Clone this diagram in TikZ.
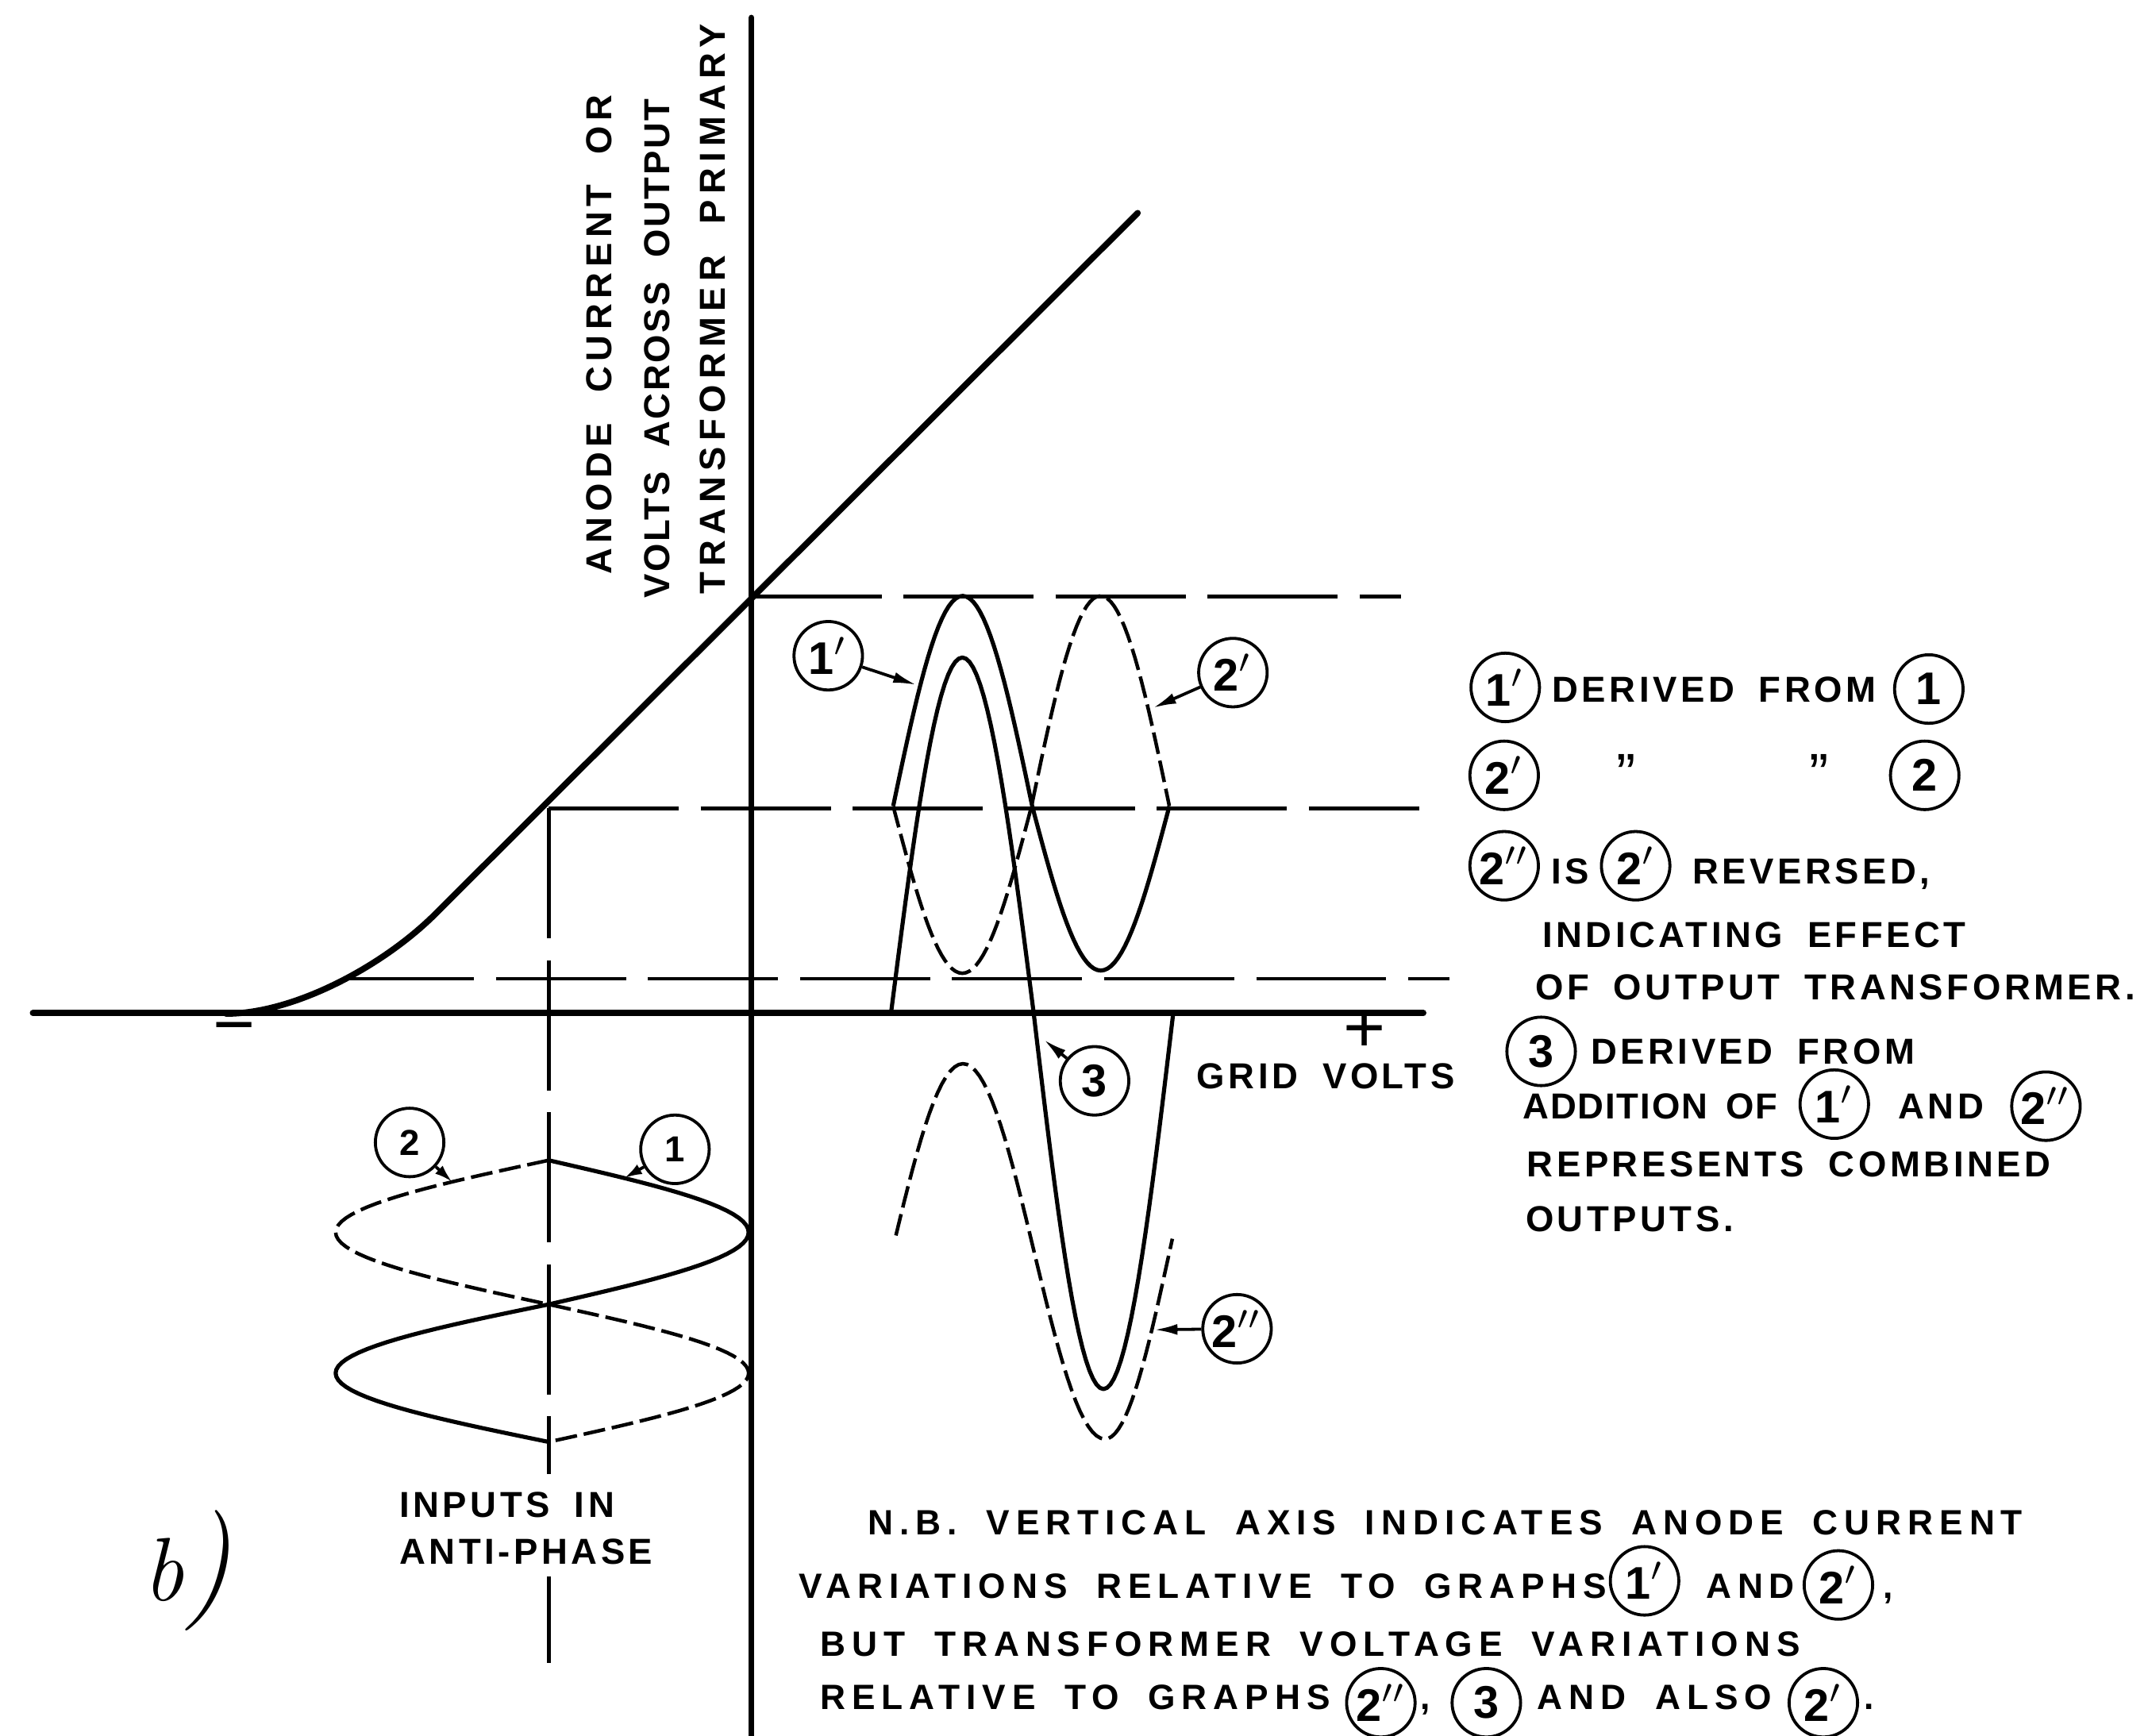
\documentclass[tikz,border=0pt]{standalone}
\usepackage{fontspec}
\newfontfamily\lettering{Liberation Sans}[LetterSpace=10,WordSpace=1.8]
\newfontfamily\vletteringA{Liberation Sans}[LetterSpace=14.5,WordSpace=2.0]
\newfontfamily\vletteringB{Liberation Sans}[LetterSpace=6,WordSpace=2.0]
\newfontfamily\vletteringC{Liberation Sans}[LetterSpace=16,WordSpace=2.0]
\newfontfamily\nlettering{Liberation Sans}[LetterSpace=18,WordSpace=1.8]
\newfontfamily\tlettering{Liberation Sans}[LetterSpace=4,WordSpace=1.6]
\newfontfamily\signfont{Liberation Sans}
\usetikzlibrary{arrows.meta}
\newcommand\sgl{\ensuremath{^{\prime}}}
\newcommand\dbl{\ensuremath{^{\prime\prime}}}
\tikzset{
  axisline/.style={line width=0.45mm, line cap=round, line join=round},
  refdash/.style={line width=0.28mm, dash pattern=on 9.5mm off 1.6mm},
  wave/.style={line width=0.3mm, line join=round},
  dwave/.style={line width=0.26mm, dash pattern=on 1.6mm off 0.5mm},
  circ/.style={circle, draw, line width=0.22mm, minimum size=5mm, inner sep=0pt,
     font=\lettering\bfseries\fontsize{9.5}{10}\selectfont},
  smallcirc/.style={circ, font=\lettering\bfseries\fontsize{7.5}{8}\selectfont},
  words/.style={inner sep=0pt, anchor=base west, font=\lettering\bfseries\fontsize{7.5}{8}\selectfont},
  vwords/.style={words, rotate=90},
  nwords/.style={words, font=\nlettering\bfseries\fontsize{7.3}{8}\selectfont},
  ptr/.style={line width=0.22mm, -{Latex[length=1.7mm,width=0.8mm]}},
  sptr/.style={line width=0.22mm, -{Latex[length=1.3mm,width=0.8mm]}},
  sign/.style={inner sep=0pt, font=\signfont\fontsize{15}{16}\selectfont},
  ditto/.style={inner sep=0pt, font=\lettering\fontsize{12}{12}\selectfont},
}
\begin{document}
\begin{tikzpicture}[x=0.1mm,y=-0.1mm]
\fill[white] (0,0) rectangle (1568,1267);
\useasboundingbox (0,0) rectangle (1568,1267);
% ---------------- axes
\coordinate (vtop) at (548.5,13);
\coordinate (vbot) at (548.5,1267);
\coordinate (hl) at (24,739.5);
\coordinate (hr) at (1039,739.5);
\draw[axisline] (vtop) -- (vbot);
\draw[axisline] (hl) -- (hr);
% ---------------- valve characteristic
\coordinate (kneeA) at (165,740);
\coordinate (kneeB) at (318,667);
\coordinate (ctop) at (830.5,155.5);
\draw[axisline] (kneeA) .. controls (215,740) and (280,705) .. (kneeB) -- (ctop);
% ---------------- dashed reference lines
\coordinate (corner) at (400.5,590);
\coordinate (vdA) at (400.5,1076);
\coordinate (vdB) at (400.5,1151);
\coordinate (vdC) at (400.5,1214);
\draw[refdash] (548.5,435.5) -- (1023,435.5);
\draw[refdash] (corner) -- (1036,590);
\draw[refdash] (corner) -- (vdA);
\draw[line width=0.28mm] (vdB) -- (vdC);
\draw[refdash] (251,714.5) -- (1058,714.5);
% ---------------- output curves
% 1' (solid)
\draw[wave] plot[domain=652:753.5,samples=41] (\x,{588.5-153.5*sin((\x-652)/101.5*180)})
  -- plot[domain=753.5:853.6,samples=41] (\x,{588.5+120*sin((\x-753.5)/100.1*180)});
% 2' (dashed)
\draw[dwave] plot[domain=652:753,samples=41] (\x,{588.5+122*sin((\x-652)/101*180)})
  -- plot[domain=753:853.6,samples=41] (\x,{588.5-153.5*sin((\x-753)/100.6*180)});
% 3 (solid)
\draw[wave] plot[domain=650.5:754.5,samples=41] (\x,{739-259*sin((\x-650.5)/104*180)})
  -- plot[domain=754.5:856.5,samples=41] (\x,{739+275*sin((\x-754.5)/102*180)});
% 2'' (dashed)
\draw[dwave] plot[domain=654:806.6,samples=51] (\x,{913.5-137*cos((\x-703)/103.6*180)})
  -- plot[domain=806.6:855.8,samples=21] (\x,{913.5+137*cos(deg(0.0333*(\x-806.6)))});
% ---------------- input curves
% 1 (solid)
\draw[wave] plot[domain=847:952.2,samples=41,variable=\t] ({400.5+146*sin((\t-847)/105.2*180)},\t)
  -- plot[domain=952.2:1052.6,samples=41,variable=\t] ({400.5-155.5*sin((\t-952.2)/100.4*180)},\t);
% 2 (dashed)
\draw[dwave] plot[domain=847:952.2,samples=41,variable=\t] ({400.5-155.5*sin((\t-847)/105.2*180)},\t)
  -- plot[domain=952.2:1052.6,samples=41,variable=\t] ({400.5+146*sin((\t-952.2)/100.4*180)},\t);
% ---------------- curve labels
\node[circ] (o1) at (604.6,478.7) {1\sgl};
\coordinate (o1t) at (669,500);
\draw[ptr] (o1) -- (o1t);
\node[circ] (o2) at (900,491) {2\sgl};
\coordinate (o2t) at (841.6,516.8);
\draw[ptr] (o2) -- (o2t);
\node[circ] (o3) at (799,789) {3};
\coordinate (o3t) at (762,759);
\draw[ptr] (o3) -- (o3t);
\node[circ] (o4) at (903,970) {2\dbl};
\coordinate (o4t) at (842.5,970.7);
\draw[ptr] (o4) -- (o4t);
\node[smallcirc] (i2) at (299,834) {2};
\coordinate (i2t) at (330,862.7);
\draw[sptr] (i2) -- (i2t);
\node[smallcirc] (i1) at (492.7,839) {1};
\coordinate (i1t) at (455.7,860);
\draw[sptr] (i1) -- (i1t);
% ---------------- axis labels
\node[vwords, font=\vletteringA\bfseries\fontsize{7.5}{8}\selectfont] (ax1) at (446.2,420) {ANODE CURRENT OR};
\node[vwords, font=\vletteringB\bfseries\fontsize{7.5}{8}\selectfont] (ax2) at (488.6,437.5) {VOLTS ACROSS OUTPUT};
\node[vwords, font=\vletteringC\bfseries\fontsize{7.5}{8}\selectfont] (ax3) at (529.2,434.5) {TRANSFORMER PRIMARY};
\node[words] (grid) at (873,795) {GRID VOLTS};
\node[sign] (minus) at (171,756) {−};
\node[sign] (plus) at (996,753) {+};
\node[words] (inp1) at (291,1107.7) {INPUTS\ IN};
\node[words] (inp2) at (291,1142) {ANTI-PHASE};
\node[anchor=base west, inner sep=0pt] (blab) at (104,1168.6)
  {\fontsize{18.7}{20}\selectfont\itshape b\fontsize{25}{26}\selectfont )};
% ---------------- key (right)
\node[circ] (k1a) at (1098.8,501.8) {1\sgl};
\node[words] (k1t) at (1132.4,512.8) {DERIVED FROM};
\node[circ] (k1b) at (1408,503) {1};
\node[circ] (k2a) at (1098,566) {2\sgl};
\node[ditto] (k2d1) at (1187,565) {\textquotedblright};
\node[ditto] (k2d2) at (1328,565) {\textquotedblright};
\node[circ] (k2b) at (1405,566) {2};
\node[circ] (k3a) at (1098,632) {2\dbl};
\node[words] (k3t) at (1132,645) {IS};
\node[circ] (k3b) at (1194,632) {2\sgl};
\node[words] (k3u) at (1234.8,645) {REVERSED,};
\node[words] (k4t) at (1125.3,691.3) {INDICATING EFFECT};
\node[words] (k5t) at (1120,730) {OF OUTPUT TRANSFORMER.};
\node[circ] (k6a) at (1125,767.5) {3};
\node[words] (k6t) at (1160.6,776.6) {DERIVED FROM};
\node[words, font=\tlettering\bfseries\fontsize{7.5}{8}\selectfont] (k7t) at (1111,816.7) {ADDITION OF};
\node[circ] (k7a) at (1339,806) {1\sgl};
\node[words] (k7u) at (1385,816.7) {AND};
\node[circ] (k7b) at (1493.5,807.5) {2\dbl};
\node[words] (k8t) at (1114,859) {REPRESENTS COMBINED};
\node[words] (k9t) at (1113,899) {OUTPUTS.};
% ---------------- note (bottom)
\node[nwords] (n1) at (633,1120.3) {N.B. VERTICAL AXIS INDICATES ANODE CURRENT};
\node[nwords] (n2) at (582.6,1166.6) {VARIATIONS RELATIVE TO GRAPHS};
\node[circ] (n2a) at (1200.5,1154) {1\sgl};
\node[nwords] (n2t) at (1244.6,1166.6) {AND};
\node[circ] (n2b) at (1342,1157) {2\sgl};
\node[nwords] (n2c) at (1374,1166.6) {,};
\node[nwords] (n3) at (598.3,1209) {BUT TRANSFORMER VOLTAGE VARIATIONS};
\node[nwords] (n4) at (598,1248) {RELATIVE TO GRAPHS};
\node[circ] (n4a) at (1008,1243) {2\dbl};
\node[nwords] (n4c) at (1036,1248) {,};
\node[circ] (n4b) at (1085,1243) {3};
\node[nwords] (n4t) at (1121.6,1248) {AND ALSO};
\node[circ] (n4d) at (1331,1243) {2\sgl};
\node[nwords] (n4e) at (1360,1248) {.};
\end{tikzpicture}
\end{document}
